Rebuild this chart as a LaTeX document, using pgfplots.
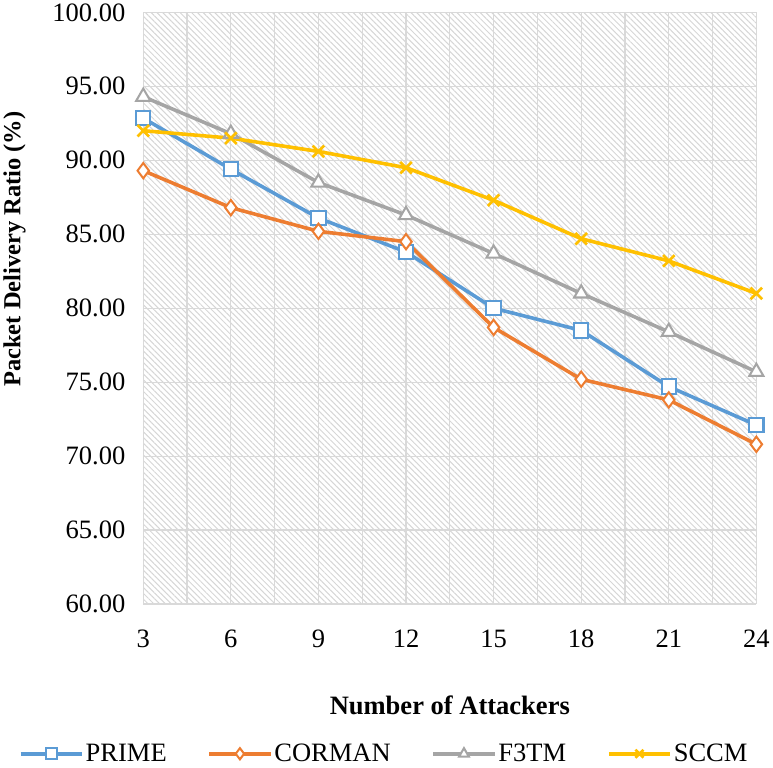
\documentclass[border=0pt]{standalone}
\usepackage{fontspec}
\setmainfont{Liberation Serif}
\usepackage{pgfplots}
\pgfplotsset{compat=1.18}
\usetikzlibrary{patterns.meta}
\definecolor{cprime}{HTML}{5B9BD5}
\definecolor{ccorman}{HTML}{ED7D31}
\definecolor{cf3tm}{HTML}{A5A5A5}
\definecolor{csccm}{HTML}{FFC000}
\definecolor{gridgray}{HTML}{D9D9D9}
\definecolor{hatch}{HTML}{D6D6D6}
\newcommand{\tickfont}{\fontsize{26bp}{30bp}\selectfont}
\begin{document}
\begin{tikzpicture}
\begin{axis}[
  scale only axis, width=601bp, height=580bp,
  xmin=3, xmax=24, ymin=60, ymax=100,
  xtick={3,6,...,24}, ytick={60,65,...,100},
  minor x tick num=1,
  grid=both,
  major grid style={draw=gridgray, line width=1.2bp},
  minor grid style={draw=gridgray, line width=1.2bp},
  axis line style={draw=none},
  major tick length=0pt, minor tick length=0pt,
  yticklabel={\tickfont\pgfmathprintnumber[fixed, fixed zerofill, precision=2, assume math mode=true]{\tick}\hspace*{14bp}},
  xticklabel={\tickfont\pgfmathprintnumber[assume math mode=true]{\tick}},
  font=\tickfont,
  xticklabel shift=22bp,
  xlabel={\textbf{Number of Attackers}},
  ylabel={\textbf{Packet Delivery Ratio (\%)}},
  xlabel style={at={(axis description cs:0.5,-0.171)}, anchor=center, font=\tickfont},
  ylabel style={at={(axis description cs:-0.21,0.6)}, anchor=center, font=\fontsize{24bp}{30bp}\selectfont},
  axis background/.style={pattern={Lines[angle=-45, distance=4bp, line width=1bp]}, pattern color=hatch},
  legend style={at={(axis description cs:0.393,-0.253)}, anchor=center, draw=none, fill=none,
    legend columns=4, font=\tickfont,
    /tikz/every even column/.append style={column sep=38bp},
    nodes={inner sep=2bp}},
  legend image code/.code={\draw[mark repeat=2, mark phase=2, mark size=5.5bp] plot coordinates {(0bp,0bp) (30bp,0bp) (60bp,0bp)};},
  every axis plot/.append style={line width=3.5bp},
]
\addplot[color=cprime, mark=square*, mark size=7bp, mark options={fill=white, line width=2bp}]
  coordinates {(3,92.85) (6,89.4) (9,86.1) (12,83.8) (15,80.0) (18,78.5) (21,74.7) (24,72.1)};
\addlegendentry{PRIME}
\addplot[color=ccorman, mark=diamond*, mark size=7.5bp, mark options={fill=white, line width=2bp}]
  coordinates {(3,89.3) (6,86.8) (9,85.2) (12,84.5) (15,78.7) (18,75.2) (21,73.8) (24,70.8)};
\addlegendentry{CORMAN}
\addplot[color=cf3tm, mark=triangle*, mark size=8bp, mark options={fill=white, line width=2bp}]
  coordinates {(3,94.3) (6,91.8) (9,88.5) (12,86.3) (15,83.7) (18,81.0) (21,78.4) (24,75.7)};
\addlegendentry{F3TM}
\addplot[color=csccm, mark=x, mark size=8bp, mark options={line width=2.6bp}]
  coordinates {(3,92.0) (6,91.5) (9,90.6) (12,89.5) (15,87.3) (18,84.7) (21,83.2) (24,81.0)};
\addlegendentry{SCCM}
\end{axis}
\end{tikzpicture}
\end{document}
